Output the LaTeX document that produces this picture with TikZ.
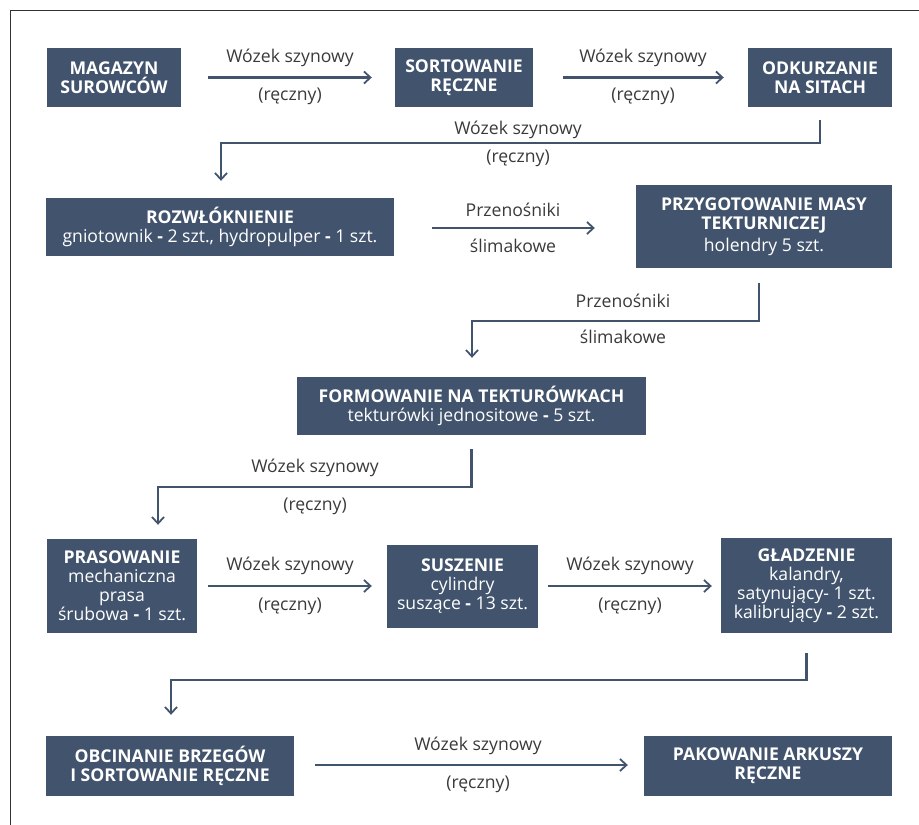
\documentclass[tikz,border=0pt]{standalone}
\usepackage{fontspec}
\setmainfont{Open Sans}
\usetikzlibrary{arrows.meta}
\definecolor{boxc}{HTML}{42546D}
\definecolor{linec}{HTML}{42546D}
\definecolor{labc}{HTML}{3A3A3A}
\definecolor{framec}{HTML}{333333}
\tikzset{
  box/.style={fill=boxc, text=white, align=center, inner sep=0pt, font=\fontsize{17.6}{19}\selectfont},
  arr/.style={draw=linec, line width=2.6pt, -{Straight Barb[length=6.5pt,width=12pt,line width=1.8pt]}},
  lab/.style={text=labc, inner sep=0pt, font=\fontsize{17.6}{19}\selectfont},
}
\newcommand{\ttl}[1]{{\bfseries #1}}
\begin{document}
\begin{tikzpicture}[x=1pt,y=-1pt]
\useasboundingbox (0,0) rectangle (919,825);
\draw[framec, line width=1.5pt] (10.5,825) -- (10.5,10.5) -- (919,10.5);

% boxes
\node[box, minimum width=134pt, minimum height=59pt] (b1) at (114,77.5)
  {\fontsize{17.6}{21}\selectfont\ttl{MAGAZYN}\\\ttl{SUROWCÓW}};
\node[box, minimum width=138pt, minimum height=59pt] (b2) at (464,77.5)
  {\fontsize{17.6}{21}\selectfont\ttl{SORTOWANIE}\\\ttl{RĘCZNE}};
\node[box, minimum width=144pt, minimum height=59pt] (b3) at (820,77.5)
  {\fontsize{17.6}{21}\selectfont\ttl{ODKURZANIE}\\\ttl{NA SITACH}};
\node[box, minimum width=348pt, minimum height=58pt] (b4) at (220,227)
  {\fontsize{17.6}{24}\selectfont\ttl{ROZWŁÓKNIENIE}\\gniotownik \textbf{-} 2 szt., hydropulper \textbf{-} 1 szt.};
\node[box, minimum width=256pt, minimum height=83pt] (b5) at (764,226.5)
  {\fontsize{17.6}{21}\selectfont\ttl{PRZYGOTOWANIE MASY}\\\ttl{TEKTURNICZEJ}\\[3pt]holendry 5 szt.};
\node[box, minimum width=349pt, minimum height=58pt] (b6) at (471.5,406)
  {\fontsize{17.6}{25}\selectfont\ttl{FORMOWANIE NA TEKTURÓWKACH}\\tekturówki jednositowe \textbf{-} 5 szt.};
\node[box, minimum width=150pt, minimum height=94pt] (b7) at (122,586)
  {\ttl{PRASOWANIE}\\mechaniczna\\prasa\\śrubowa \textbf{-} 1 szt.};
\node[box, minimum width=151pt, minimum height=83pt] (b8) at (462.5,586.5)
  {\fontsize{17.6}{23.5}\selectfont\ttl{SUSZENIE}\\cylindry\\suszące \textbf{-} 13 szt.};
\node[box, minimum width=171pt, minimum height=95pt] (b9) at (806.5,585.5)
  {\ttl{GŁADZENIE}\\kalandry,\\satynujący- 1 szt.\\kalibrujący \textbf{-} 2 szt.};
\node[box, minimum width=248pt, minimum height=60pt] (b10) at (170,766)
  {\fontsize{17.6}{21}\selectfont\ttl{OBCINANIE BRZEGÓW}\\\ttl{I SORTOWANIE RĘCZNE}};
\node[box, minimum width=248pt, minimum height=60pt] (b11) at (768,766)
  {\fontsize{17.6}{21}\selectfont\ttl{PAKOWANIE ARKUSZY}\\\ttl{RĘCZNE}};

% horizontal arrows
\draw[arr] ([xshift=27pt]b1.east) -- ([xshift=-23pt]b2.west);
\draw[arr] ([xshift=30pt]b2.east) -- ([xshift=-24pt]b3.west);
\draw[arr] ([xshift=38pt,yshift=-1pt]b4.east) -- ([xshift=-41pt,yshift=-1.5pt]b5.west);
\draw[arr] ([xshift=11pt]b7.east) -- ([xshift=-15pt,yshift=0.5pt]b8.west);
\draw[arr] ([xshift=10pt,yshift=0.5pt]b8.east) -- ([xshift=-9pt,yshift=-0.5pt]b9.west);
\draw[arr] ([xshift=21pt,yshift=1pt]b10.east) -- ([xshift=-16pt,yshift=1pt]b11.west);

% elbow connectors
\coordinate (h1) at (221,143);
\draw[arr] ([yshift=-13pt]b3.south) -- (b3.south |- h1) -- (h1) -- ([yshift=17pt]b4.north -| h1);
\coordinate (h2) at (472,321);
\coordinate (s2) at (759,283);
\draw[arr] (s2) -- (s2 |- h2) -- (h2) -- ([yshift=19pt]b6.north -| h2);
\coordinate (h3) at (158,487);
\draw[arr] ([yshift=-14pt]b6.south) -- (b6.south |- h3) -- (h3) -- ([yshift=14pt]b7.north -| h3);
\coordinate (h4) at (171,680);
\draw[arr] ([yshift=-20pt]b9.south) -- (b9.south |- h4) -- (h4) -- ([yshift=21pt]b10.north -| h4);

% labels
\node[lab] (l1a) at (290,58) {Wózek szynowy};
\node[lab] (l1b) at (290,96) {(ręczny)};
\node[lab] (l2a) at (643,58) {Wózek szynowy};
\node[lab] (l2b) at (643,96) {(ręczny)};
\node[lab] (l3a) at (518,130) {Wózek szynowy};
\node[lab] (l3b) at (518,158) {(ręczny)};
\node[lab] (l4a) at (513,210) {Przenośniki};
\node[lab] (l4b) at (513,246) {ślimakowe};
\node[lab] (l5a) at (623,301) {Przenośniki};
\node[lab] (l5b) at (623,337) {ślimakowe};
\node[lab] (l6a) at (315,468) {Wózek szynowy};
\node[lab] (l6b) at (315,506) {(ręczny)};
\node[lab] (l7a) at (290,566) {Wózek szynowy};
\node[lab] (l7b) at (290,606) {(ręczny)};
\node[lab] (l8a) at (630,566) {Wózek szynowy};
\node[lab] (l8b) at (630,606) {(ręczny)};
\node[lab] (l9a) at (478,746) {Wózek szynowy};
\node[lab] (l9b) at (478,784) {(ręczny)};
\end{tikzpicture}
\end{document}
